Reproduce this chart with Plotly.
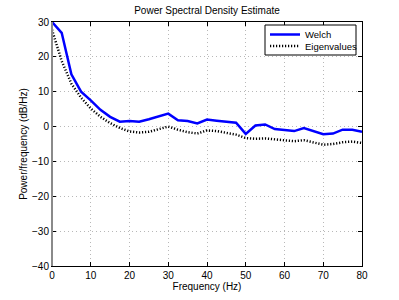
import plotly.graph_objects as go

freq = [0, 2.5, 5, 7.5, 10, 12.5, 15, 17.5, 20, 22.5, 25, 27.5, 30, 32.5, 35, 37.5,
        40, 42.5, 45, 47.5, 50, 52.5, 55, 57.5, 60, 62.5, 65, 67.5, 70, 72.5, 75, 77.5, 80]
welch = [30, 26.9, 15.0, 10.0, 7.5, 4.8, 2.8, 1.4, 1.6, 1.4, 2.1, 2.8, 3.7, 1.8, 1.6, 0.9,
         2.0, 1.7, 1.5, 1.1, -2.1, 0.3, 0.6, -0.7, -1.0, -1.3, -0.4, -1.2, -2.2, -2.0, -0.9, -0.9, -1.5]
eigen = [27.8, 18.8, 12.3, 8.3, 5.2, 2.8, 1.0, -0.4, -1.4, -1.7, -1.5, -0.8, 0.0, -0.9, -1.6, -2.0,
         -1.1, -1.3, -1.7, -2.3, -3.3, -3.5, -3.4, -3.7, -4.0, -4.2, -3.9, -4.5, -5.2, -5.0, -4.5, -4.3, -4.7]
series_names = ["Welch", "Eigenvalues"]

xticks = [0, 10, 20, 30, 40, 50, 60, 70, 80]
yticks = [-40, -30, -20, -10, 0, 10, 20, 30]

font = "Liberation Sans, Arial, Helvetica, sans-serif"
W, H = 399, 300
L, R, T, B = 52, 37, 22, 34
pw, ph = W - L - R, H - T - B
DOT = "1.2px,1.8px"

def px_x(p):
    return (p - L) / pw

def px_y(p):
    return (H - B - p) / ph

fig = go.Figure()
fig.add_trace(go.Scatter(x=freq, y=welch, mode="lines", name=series_names[0],
                         line=dict(color="#0000ff", width=2.5), showlegend=False))
fig.add_trace(go.Scatter(x=freq, y=eigen, mode="lines", name=series_names[1],
                         line=dict(color="#000000", width=2.5, dash=DOT), showlegend=False))

axis_common = dict(showline=True, linecolor="black", linewidth=1, mirror="allticks",
                   ticks="inside", ticklen=4, tickcolor="black", automargin=False,
                   showgrid=True, gridcolor="#b8b8b8", gridwidth=1, griddash="1px,3px",
                   zeroline=False, tickfont=dict(size=10, color="black", family=font))

fig.update_xaxes(range=[0, 80], tickvals=xticks,
                 title=dict(text="Frequency (Hz)", font=dict(size=10, family=font, color="black"), standoff=0),
                 **axis_common)
fig.update_yaxes(range=[-40, 30], tickvals=yticks,
                 title=dict(text="Power/frequency (dB/Hz)", font=dict(size=10, family=font, color="black"), standoff=2),
                 **axis_common)

# left spine rendered grey/thicker as in reference
fig.add_shape(type="line", xref="paper", yref="paper", x0=0, x1=0, y0=0, y1=1,
              line=dict(color="#8a8a8a", width=2))

# legend box (manual, compact like the reference)
lx0, lx1, ly0, ly1 = 265, 356, 25, 55
fig.add_shape(type="rect", xref="paper", yref="paper",
              x0=px_x(lx0), x1=px_x(lx1), y0=px_y(ly1), y1=px_y(ly0),
              line=dict(color="black", width=1), fillcolor="white", layer="above")
for i, (nm, col, dash) in enumerate([(series_names[0], "#0000ff", "solid"),
                                     (series_names[1], "#000000", DOT)]):
    yy = 34.5 + i * 11.5
    fig.add_shape(type="line", xref="paper", yref="paper",
                  x0=px_x(270), x1=px_x(300), y0=px_y(yy), y1=px_y(yy),
                  line=dict(color=col, width=2.5, dash=dash), layer="above")
    fig.add_annotation(text=nm, xref="paper", yref="paper", x=px_x(303), y=px_y(yy),
                       xanchor="left", yanchor="middle", showarrow=False,
                       font=dict(size=9.5, family=font, color="black"))

fig.update_layout(
    width=W, height=H,
    margin=dict(l=L, r=R, t=T, b=B),
    paper_bgcolor="white", plot_bgcolor="white",
    title=dict(text="Power Spectral Density Estimate", x=0.5, xref="paper", xanchor="center",
               y=1 - 10 / H, yref="container", yanchor="middle",
               font=dict(size=10, family=font, color="black")),
    showlegend=False,
)

fig.write_html("out.html", config={"displayModeBar": False},
               post_script="document.body.style.margin='0';document.body.style.padding='0';")
